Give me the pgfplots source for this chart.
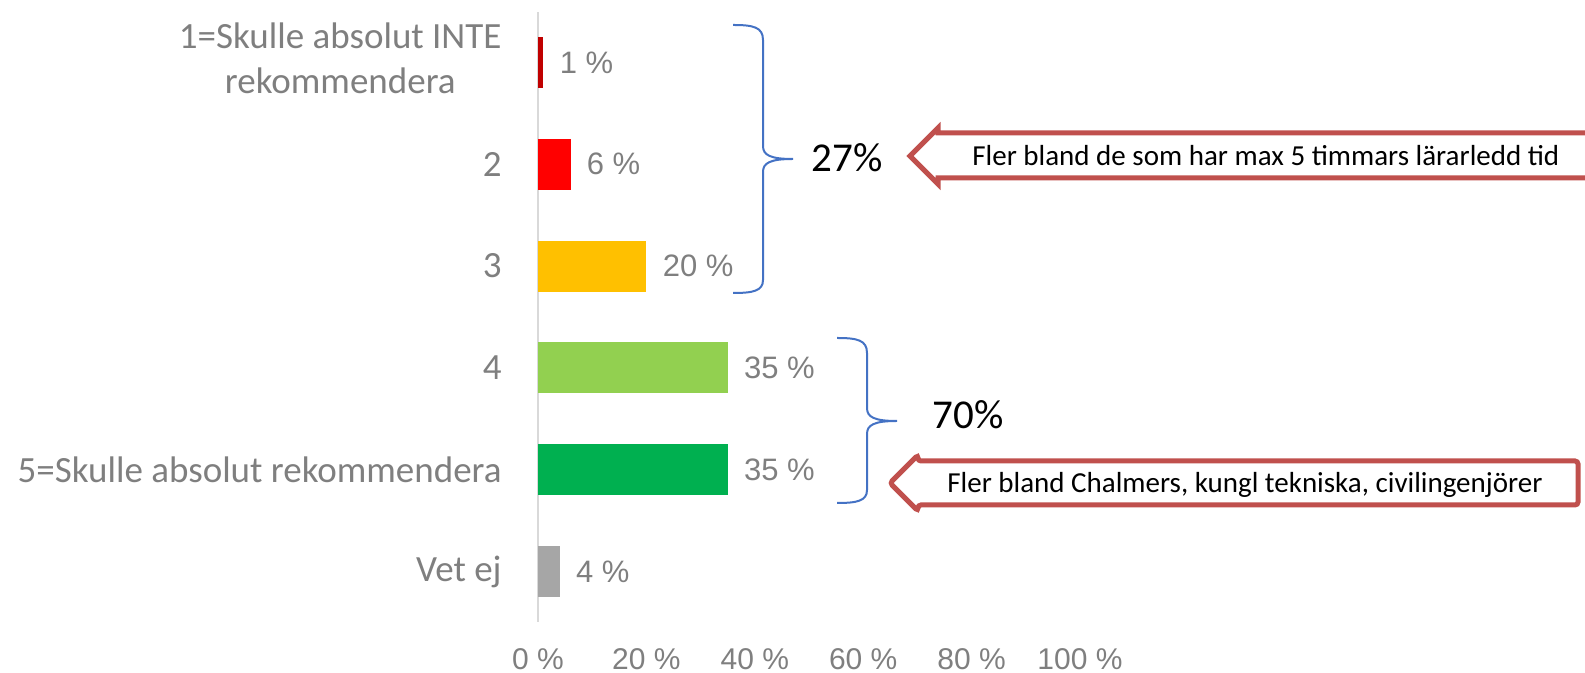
\documentclass[border=0pt]{standalone}
\usepackage{pgfplots}
\pgfplotsset{compat=1.18}
\usepackage{fontspec}
\setmainfont{Liberation Sans}
\newfontfamily\calibri{Carlito}
\definecolor{txtgray}{HTML}{7F7F7F}
\definecolor{axisgray}{HTML}{D9D9D9}
\definecolor{c1}{HTML}{C00000}
\definecolor{c2}{HTML}{FF0000}
\definecolor{c3}{HTML}{FFC000}
\definecolor{c4}{HTML}{92D050}
\definecolor{c5}{HTML}{00B050}
\definecolor{c6}{HTML}{A6A6A6}
\definecolor{bracecol}{HTML}{4472C4}
\definecolor{arrowcol}{HTML}{C0504D}

\begin{document}
\begin{tikzpicture}
\useasboundingbox (0,0) rectangle (792.5pt,336.5pt);
\clip (0,0) rectangle (792.5pt,336.5pt);
\begin{axis}[
    at={(269pt,25.5pt)}, anchor=south west,
    scale only axis, width=271pt, height=305pt,
    xbar, bar width=0.5, bar shift=0pt,
    xmin=0, xmax=100, ymin=-0.496, ymax=5.496,
    axis lines=left,
    x axis line style={draw=none},
    y axis line style={-, draw=axisgray, line width=1pt},
    major tick length=0pt,
    xtick={0,20,...,100},
    xticklabels={0 \%,20 \%,40 \%,60 \%,80 \%,100 \%},
    xticklabel style={font=\fontsize{15}{18}\selectfont, text=txtgray, anchor=center, inner sep=0pt, yshift=-18.5pt},
    ytick={0,...,5},
    yticklabels={{Vet ej},{5=Skulle absolut rekommendera},{4},{3},{2},{\begin{tabular}{@{}c@{}}1=Skulle absolut INTE\\rekommendera\end{tabular}}},
    yticklabel style={font=\calibri\fontsize{18.5}{22.5}\selectfont, text=txtgray, anchor=east, inner sep=0pt, xshift=-18pt},
    point meta=x,
    nodes near coords={\pgfmathprintnumber[assume math mode=true]{\pgfplotspointmeta}~\%},
    every node near coord/.append style={font=\fontsize{15.5}{18}\selectfont, text=txtgray, anchor=west, inner sep=0pt, xshift=8pt},
    clip=false,
  ]
\addplot[fill=c1, draw=none] coordinates {(1,5)};
\addplot[fill=c2, draw=none] coordinates {(6,4)};
\addplot[fill=c3, draw=none] coordinates {(20,3)};
\addplot[fill=c4, draw=none] coordinates {(35,2)};
\addplot[fill=c5, draw=none] coordinates {(35,1)};
\addplot[fill=c6, draw=none] coordinates {(4,0)};
\end{axis}

% annotations, in pixel units from the top left corner
\begin{scope}[x=0.5pt, y=-0.5pt, yshift=336.5pt]
  % braces
  \draw[bracecol, line width=1pt]
    (733,25) .. controls (753,25) and (763,27) .. (763,40) -- (763,146)
    .. controls (763,155) and (770,159) .. (793,159)
    .. controls (770,159) and (763,163) .. (763,172) -- (763,280)
    .. controls (763,291) and (753,293) .. (733,293);
  \draw[bracecol, line width=1pt]
    (837,338) .. controls (857,338) and (867,340) .. (867,353) -- (867,408)
    .. controls (867,417) and (874,421) .. (897,421)
    .. controls (874,421) and (867,425) .. (867,434) -- (867,490)
    .. controls (867,501) and (857,503) .. (837,503);
  \node[font=\calibri\fontsize{20.5}{24}\selectfont] at (847,158) {27\%};
  \node[font=\calibri\fontsize{20.5}{24}\selectfont] at (968,415) {70\%};
  % arrows (the upper one runs off the right edge)
  \draw[arrowcol, line width=2.5pt, fill=white]
    (1585,133) -- (938,133) -- (938,128) -- (910,156) -- (938,184)
    -- (938,178) -- (1585,178);
  \node[anchor=base west, inner sep=0pt, font=\calibri\fontsize{14.5}{17}\selectfont]
    at (972,166) {Fler bland de som har max 5 timmars lärarledd tid};
  \draw[arrowcol, line width=2.5pt, fill=white, rounded corners=1.5pt]
    (890,483) -- (918,455) -- (918,461) -- (1578,461) -- (1578,505)
    -- (918,505) -- (918,511) -- cycle;
  \node[anchor=base west, inner sep=0pt, font=\calibri\fontsize{14.5}{17}\selectfont]
    at (947,493) {Fler bland Chalmers, kungl tekniska, civilingenjörer};
\end{scope}
\end{tikzpicture}
\end{document}
